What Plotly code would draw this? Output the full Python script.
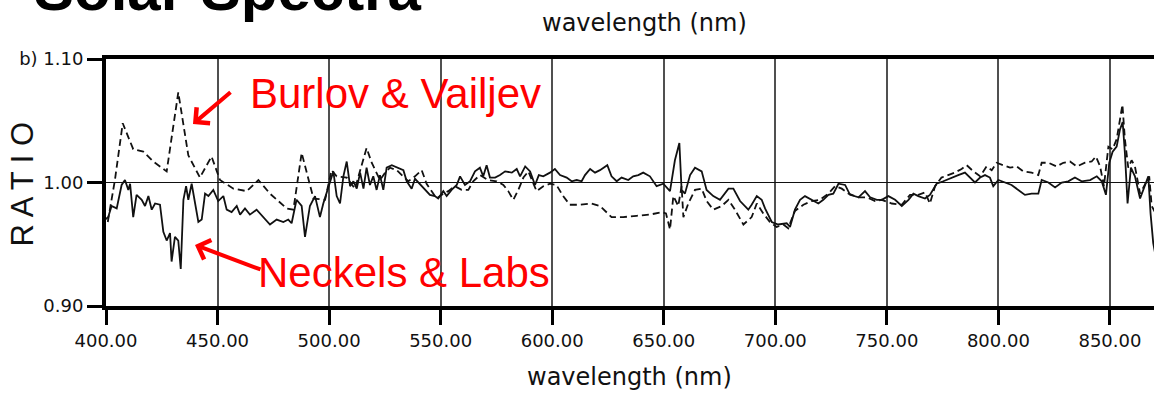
import plotly.graph_objects as go

# ---------------- data ----------------
# Neckels & Labs ratio (solid line): (wavelength nm, ratio)
neckels_labs = [
    (399.6, 0.970), (401.0, 0.972), (402.5, 0.981), (404.8, 0.979), (407.0, 0.998),
    (408.5, 1.002), (410.0, 0.994), (410.8, 0.999), (412.2, 0.972), (413.7, 0.990),
    (416.0, 0.986), (417.5, 0.981), (419.0, 0.989), (420.5, 0.978), (422.0, 0.983),
    (424.2, 0.982), (425.7, 0.960), (427.2, 0.953), (428.7, 0.959), (429.4, 0.936),
    (430.9, 0.956), (432.4, 0.953), (433.5, 0.930), (434.7, 0.986), (435.9, 0.997),
    (436.9, 0.986), (438.4, 0.999), (439.9, 0.983), (441.4, 0.968), (442.9, 0.970),
    (444.4, 0.991), (445.9, 0.989), (448.1, 0.994), (450.3, 0.985), (452.6, 0.989),
    (454.1, 0.978), (456.3, 0.976), (458.6, 0.981), (460.1, 0.974), (462.3, 0.979),
    (464.5, 0.974), (467.5, 0.978), (470.5, 0.972), (473.5, 0.966), (476.5, 0.970),
    (479.5, 0.968), (481.7, 0.970), (483.2, 0.967), (485.4, 0.986), (487.7, 0.981),
    (489.2, 0.956), (491.4, 0.981), (493.7, 0.989), (495.9, 0.972), (497.4, 0.983),
    (499.6, 0.995), (501.9, 1.009), (503.4, 0.989), (504.9, 0.983), (506.4, 1.005),
    (507.9, 1.017), (509.4, 0.997), (510.9, 1.001), (512.4, 0.995), (513.9, 1.008),
    (515.4, 0.995), (516.8, 1.012), (518.3, 0.998), (519.8, 1.005), (521.3, 0.994),
    (522.8, 1.006), (524.3, 0.994), (525.8, 1.012), (528.1, 1.014), (531.0, 1.012),
    (533.3, 1.010), (534.8, 1.001), (537.0, 0.995), (538.5, 1.003), (540.7, 0.999),
    (543.0, 0.994), (545.2, 0.990), (547.4, 0.989), (548.9, 0.987), (551.2, 0.993),
    (552.7, 0.989), (554.9, 0.994), (557.2, 0.998), (558.7, 1.005), (560.9, 0.998),
    (563.2, 1.001), (565.4, 1.009), (567.6, 1.012), (569.1, 1.005), (570.6, 1.014),
    (572.1, 1.004), (574.4, 1.004), (576.6, 1.006), (578.9, 1.009), (581.9, 1.008),
    (584.1, 1.011), (585.6, 1.005), (587.9, 1.013), (590.1, 1.009), (592.3, 0.998),
    (594.0, 1.006), (596.0, 1.005), (599.0, 1.008), (601.2, 1.011), (603.5, 1.006),
    (606.5, 1.004), (608.7, 1.001), (611.0, 1.002), (613.2, 1.001), (614.7, 1.006),
    (617.0, 1.011), (619.2, 1.008), (621.4, 1.010), (624.7, 1.014), (626.6, 1.005),
    (628.9, 1.001), (631.1, 1.004), (634.1, 1.002), (636.3, 1.005), (638.6, 1.006),
    (640.8, 1.008), (643.8, 1.005), (646.8, 0.997), (649.8, 0.999), (652.8, 0.993),
    (655.0, 1.018), (657.0, 1.032), (658.0, 0.994), (659.5, 0.991), (661.8, 1.006),
    (664.0, 1.012), (667.0, 1.009), (669.2, 0.994), (672.2, 0.989), (675.2, 0.986),
    (679.0, 0.995), (681.2, 0.995), (684.2, 0.985), (687.9, 0.978), (689.4, 0.982),
    (691.7, 0.989), (693.9, 0.986), (695.4, 0.979), (698.4, 0.968), (701.3, 0.966),
    (705.1, 0.967), (706.6, 0.964), (708.8, 0.978), (711.1, 0.986), (713.3, 0.989),
    (716.3, 0.986), (719.3, 0.983), (721.5, 0.986), (723.8, 0.990), (726.0, 0.991),
    (728.3, 0.999), (731.3, 0.998), (733.5, 0.990), (737.3, 0.988), (740.2, 0.993),
    (742.5, 0.988), (745.5, 0.986), (747.7, 0.986), (750.7, 0.989), (753.7, 0.986),
    (756.7, 0.981), (759.7, 0.986), (761.9, 0.991), (764.1, 0.989), (767.1, 0.987),
    (769.3, 0.990), (772.3, 0.999), (775.3, 1.001), (779.0, 1.004), (782.0, 1.006),
    (785.0, 1.008), (787.3, 1.004), (789.5, 1.000), (791.8, 1.004), (794.0, 1.006),
    (796.2, 1.004), (797.7, 0.997), (800.0, 1.002), (803.0, 1.000), (805.9, 0.998),
    (808.9, 0.994), (811.9, 0.990), (814.9, 0.991), (817.9, 0.991), (819.4, 1.002),
    (822.4, 1.000), (825.4, 0.996), (828.4, 1.000), (831.3, 1.001), (834.3, 1.004),
    (837.3, 1.001), (841.1, 1.002), (844.1, 1.005), (846.3, 1.001), (848.2, 0.990),
    (849.7, 1.016), (851.2, 1.025), (853.0, 1.029), (854.5, 1.043), (855.7, 1.049),
    (856.7, 1.024), (857.9, 0.983), (859.4, 1.012), (861.2, 1.005), (863.5, 0.987),
    (865.7, 0.997), (867.2, 1.005), (868.2, 0.975), (869.4, 0.951), (870.5, 0.940),
]

# Burlov & Vailjev ratio (dashed line): (wavelength nm, ratio)
burlov_vailjev = [
    (400.8, 0.968), (401.8, 0.978), (404.0, 1.002), (407.5, 1.048), (412.2, 1.027),
    (416.7, 1.025), (421.2, 1.017), (427.2, 1.009), (432.4, 1.073), (436.9, 1.022),
    (442.1, 1.004), (447.3, 1.021), (451.1, 1.002), (457.1, 0.995), (463.1, 0.993),
    (468.3, 1.002), (473.5, 0.991), (481.0, 0.979), (484.0, 0.978), (487.7, 1.024),
    (493.0, 0.987), (498.2, 0.986), (501.1, 1.010), (503.4, 1.005), (507.9, 1.004),
    (511.6, 0.995), (514.6, 1.013), (516.8, 1.028), (519.1, 1.016), (520.6, 1.010),
    (522.8, 1.002), (525.1, 1.008), (527.3, 1.012), (530.3, 1.010), (532.6, 1.006),
    (535.5, 1.001), (538.5, 1.005), (541.5, 1.010), (543.7, 0.999), (546.0, 0.993),
    (548.2, 0.987), (550.4, 0.990), (553.4, 0.993), (556.4, 0.997), (559.4, 0.994),
    (562.4, 0.994), (564.6, 1.001), (567.6, 1.006), (571.3, 1.002), (575.1, 1.001),
    (578.1, 0.998), (580.3, 0.993), (582.6, 0.986), (584.8, 0.994), (587.1, 1.004),
    (589.3, 1.009), (591.6, 0.998), (593.0, 0.993), (596.0, 0.997), (599.0, 0.999),
    (601.9, 0.998), (604.9, 0.989), (607.9, 0.982), (612.5, 0.982), (617.7, 0.983),
    (621.4, 0.981), (626.6, 0.972), (631.8, 0.972), (637.8, 0.973), (643.8, 0.974),
    (649.0, 0.976), (651.0, 0.975), (652.8, 0.962), (654.3, 0.989), (656.5, 0.981),
    (658.0, 0.997), (658.8, 0.972), (661.0, 0.983), (664.0, 0.994), (667.0, 0.995),
    (669.2, 0.985), (672.2, 0.978), (676.0, 0.981), (679.0, 0.986), (681.9, 0.978),
    (685.7, 0.966), (689.4, 0.972), (691.7, 0.983), (694.6, 0.975), (697.6, 0.968),
    (700.6, 0.964), (703.6, 0.966), (705.8, 0.963), (708.8, 0.977), (712.6, 0.982),
    (716.3, 0.985), (720.0, 0.986), (723.8, 0.991), (726.8, 0.997), (729.8, 0.995),
    (732.8, 0.991), (737.3, 0.988), (741.0, 0.988), (744.7, 0.985), (747.7, 0.986),
    (752.2, 0.983), (756.7, 0.982), (760.4, 0.990), (764.1, 0.990), (767.1, 0.992),
    (769.3, 0.983), (771.6, 0.997), (774.5, 1.004), (777.5, 1.006), (780.5, 1.008),
    (783.5, 1.011), (785.8, 1.014), (788.8, 1.009), (791.8, 1.005), (794.7, 1.013),
    (797.0, 1.010), (799.2, 1.016), (802.2, 1.014), (805.2, 1.012), (808.2, 1.013),
    (811.2, 1.009), (814.9, 1.008), (817.9, 1.006), (819.4, 1.016), (822.4, 1.016),
    (826.1, 1.013), (829.1, 1.016), (832.1, 1.017), (835.1, 1.013), (838.8, 1.016),
    (841.8, 1.017), (843.7, 1.021), (845.6, 1.013), (847.3, 0.997), (849.3, 1.029),
    (851.2, 1.027), (853.0, 1.035), (854.5, 1.051), (855.6, 1.063), (856.7, 1.035),
    (858.2, 1.012), (859.7, 1.018), (861.2, 1.013), (863.5, 0.991), (865.7, 0.999),
    (867.6, 1.005), (868.7, 0.981), (870.5, 0.975),
]

x_ticks = [400, 450, 500, 550, 600, 650, 700, 750, 800, 850]
x_tick_labels = ["400.00", "450.00", "500.00", "550.00", "600.00",
                 "650.00", "700.00", "750.00", "800.00", "850.00"]
y_ticks = [0.90, 1.00, 1.10]
y_tick_labels = ["0.90", "1.00", "b)\u00a01.10"]

title_text = "Solar Spectra"
axis_title = "wavelength (nm)"
y_title = "R A T I O"
label_bv = "Burlov & Vailjev"
label_nl = "Neckels & Labs"

nl_wl = [p[0] for p in neckels_labs]
nl_ratio = [p[1] for p in neckels_labs]
bv_wl = [p[0] for p in burlov_vailjev]
bv_ratio = [p[1] for p in burlov_vailjev]

# ---------------- layout geometry ----------------
W_FIG, H_FIG = 1154, 394
L, T, R, B = 106, 59, 0, 88
PW = W_FIG - L - R
PH = H_FIG - T - B


def xp(px):
    return (px - L) / PW


def yp(py):
    return (T + PH - py) / PH


CHART_FONT = "DejaVu Sans, Verdana, sans-serif"
SLIDE_FONT = "Liberation Sans, Arial, Helvetica, sans-serif"

fig = go.Figure()
fig.add_trace(go.Scatter(
    x=bv_wl, y=bv_ratio, mode="lines", name=label_bv,
    line=dict(color="#111111", width=1.8, dash="7px,4px"),
))
fig.add_trace(go.Scatter(
    x=nl_wl, y=nl_ratio, mode="lines", name=label_nl,
    line=dict(color="#111111", width=1.8),
))

axis_common = dict(
    showline=True, linecolor="black", linewidth=4,
    ticks="outside", ticklen=15, tickwidth=2.5, tickcolor="black",
    tickfont=dict(family=CHART_FONT, size=18, color="#111111"),
    zeroline=False,
)

fig.update_layout(
    width=W_FIG, height=H_FIG,
    margin=dict(l=L, r=R, t=T, b=B, pad=0),
    paper_bgcolor="white", plot_bgcolor="white",
    showlegend=False,
    xaxis=dict(
        range=[400, 400 + PW / 2.231], tickmode="array",
        tickvals=x_ticks, ticktext=x_tick_labels,
        showgrid=True, gridcolor="#505050", gridwidth=2,
        mirror=True, **axis_common,
    ),
    yaxis=dict(
        range=[0.90, 1.10], tickmode="array",
        tickvals=y_ticks, ticktext=y_tick_labels,
        showgrid=True, gridcolor="#111111", gridwidth=1.3,
        **axis_common,
    ),
)

ann = []
ann.append(dict(text="<b>%s</b>" % title_text, xref="paper", yref="paper",
                x=xp(32), y=yp(-11), xanchor="left", yanchor="middle",
                showarrow=False, font=dict(family=SLIDE_FONT, size=60, color="black")))
ann.append(dict(text=axis_title, xref="paper", yref="paper",
                x=xp(644), y=yp(22.5), xanchor="center", yanchor="middle",
                showarrow=False, font=dict(family=CHART_FONT, size=24, color="#111111")))
ann.append(dict(text=axis_title, xref="paper", yref="paper",
                x=xp(629), y=yp(377), xanchor="center", yanchor="middle",
                showarrow=False, font=dict(family=CHART_FONT, size=24, color="#111111")))
ann.append(dict(text=y_title, xref="paper", yref="paper",
                x=xp(21.5), y=yp(184), xanchor="center", yanchor="middle",
                textangle=-90, showarrow=False,
                font=dict(family=SLIDE_FONT, size=31, color="#111111")))
ann.append(dict(text=label_bv, xref="paper", yref="paper",
                x=xp(248), y=yp(93), xanchor="left", yanchor="middle",
                showarrow=False, font=dict(family=SLIDE_FONT, size=42, color="#ff0000")))
ann.append(dict(text=label_nl, xref="paper", yref="paper",
                x=xp(256), y=yp(272.5), xanchor="left", yanchor="middle",
                showarrow=False, font=dict(family=SLIDE_FONT, size=42, color="#ff0000")))
ann.append(dict(text="", xref="paper", yref="paper",
                x=xp(193), y=yp(124), ax=39, ay=-33,
                showarrow=True, arrowhead=4, arrowsize=1.0, arrowwidth=4,
                arrowcolor="#ff0000", standoff=0, startstandoff=0))
ann.append(dict(text="", xref="paper", yref="paper",
                x=xp(195), y=yp(245), ax=67, ay=25,
                showarrow=True, arrowhead=4, arrowsize=1.0, arrowwidth=4,
                arrowcolor="#ff0000", standoff=0, startstandoff=0))
fig.update_layout(annotations=ann)

fig.write_html(
    "out.html",
    config={"displayModeBar": False},
    post_script="document.body.style.margin='0';"
                "document.body.style.padding='0';"
                "document.documentElement.style.overflow='hidden';",
)
